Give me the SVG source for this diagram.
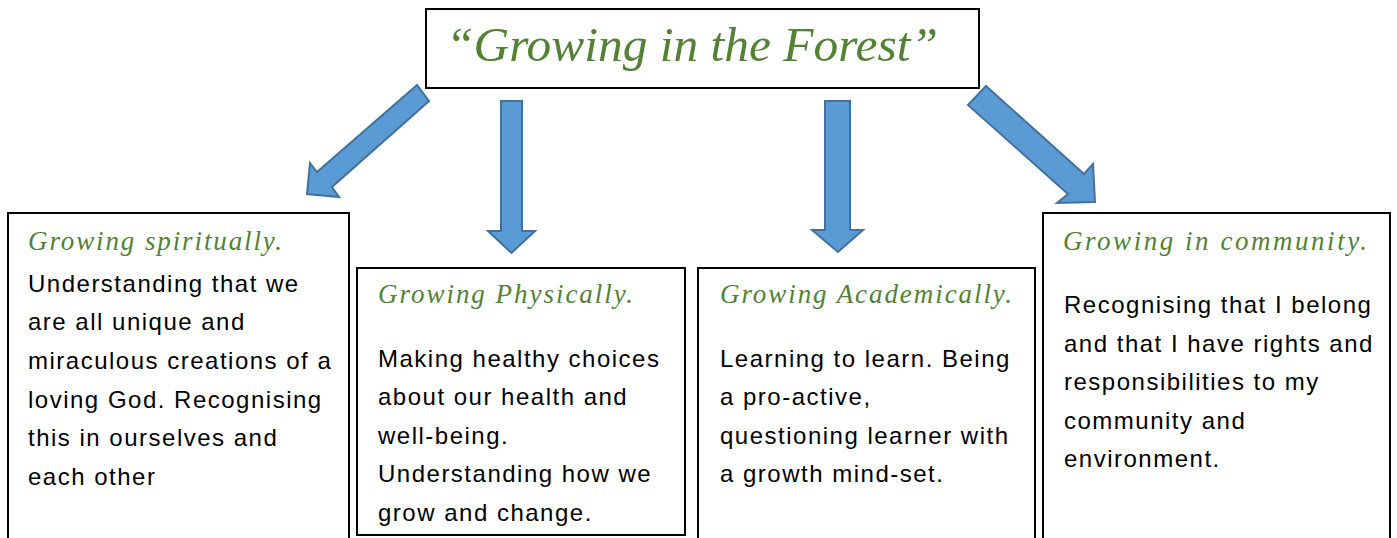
<svg xmlns="http://www.w3.org/2000/svg" width="1397" height="538" viewBox="0 0 1397 538">
<style>
.box{fill:#fff;stroke:#000;stroke-width:2}
.arrow{fill:#5B9BD5;stroke:#41719C;stroke-width:2;stroke-linejoin:miter}
.title{font-family:"Liberation Serif",serif;font-style:italic;font-size:48px;fill:#538135}
.head{font-family:"Liberation Serif",serif;font-style:italic;font-size:27px;fill:#538135}
.body{font-family:"Liberation Sans",sans-serif;font-size:24px;letter-spacing:1.5px;fill:#000}
</style>
<rect width="1397" height="538" fill="#fff"/>
<g id="connectors">
<polygon class="arrow" points="417,85 317,172 310,163 307,194 339,197 332,187 429,101"/>
<polygon class="arrow" points="501,101 522,101 522,231 535,231 511.5,253 488,231 501,231"/>
<polygon class="arrow" points="825,101 850,101 850,230 863,230 838,252 812,230 825,230"/>
<polygon class="arrow" points="986,86 1084,174 1093,164 1095,202 1057,203 1068,194 968,105"/>
</g>
<g id="title">
<rect class="box" x="426" y="9" width="553" height="79"/>
<text class="title" x="446" y="61" textLength="492" lengthAdjust="spacingAndGlyphs">“Growing in the Forest”</text>
</g>
<g id="spiritually">
<rect class="box" x="8" y="213" width="341" height="330"/>
<text class="head" x="28" y="250" textLength="254" lengthAdjust="spacing">Growing spiritually.</text>
<text class="body" x="28" y="292">Understanding that we</text>
<text class="body" x="28" y="330">are all unique and</text>
<text class="body" x="28" y="369">miraculous creations of a</text>
<text class="body" x="28" y="408">loving God. Recognising</text>
<text class="body" x="28" y="446">this in ourselves and</text>
<text class="body" x="28" y="485">each other</text>
</g>
<g id="physically">
<rect class="box" x="357" y="268" width="328" height="267"/>
<text class="head" x="378" y="303" textLength="255" lengthAdjust="spacing">Growing Physically.</text>
<text class="body" x="378" y="367">Making healthy choices</text>
<text class="body" x="378" y="405">about our health and</text>
<text class="body" x="378" y="444">well-being.</text>
<text class="body" x="378" y="482">Understanding how we</text>
<text class="body" x="378" y="521">grow and change.</text>
</g>
<g id="academically">
<rect class="box" x="698" y="268" width="337" height="275"/>
<text class="head" x="720" y="303" textLength="292" lengthAdjust="spacing">Growing Academically.</text>
<text class="body" x="720" y="367">Learning to learn. Being</text>
<text class="body" x="720" y="405">a pro-active,</text>
<text class="body" x="720" y="444">questioning learner with</text>
<text class="body" x="720" y="482">a growth mind-set.</text>
</g>
<g id="community">
<rect class="box" x="1043" y="213" width="347" height="330"/>
<text class="head" x="1063" y="250" textLength="304" lengthAdjust="spacing">Growing in community.</text>
<text class="body" x="1064" y="313">Recognising that I belong</text>
<text class="body" x="1064" y="352">and that I have rights and</text>
<text class="body" x="1064" y="390">responsibilities to my</text>
<text class="body" x="1064" y="429">community and</text>
<text class="body" x="1064" y="467">environment.</text>
</g>
</svg>
